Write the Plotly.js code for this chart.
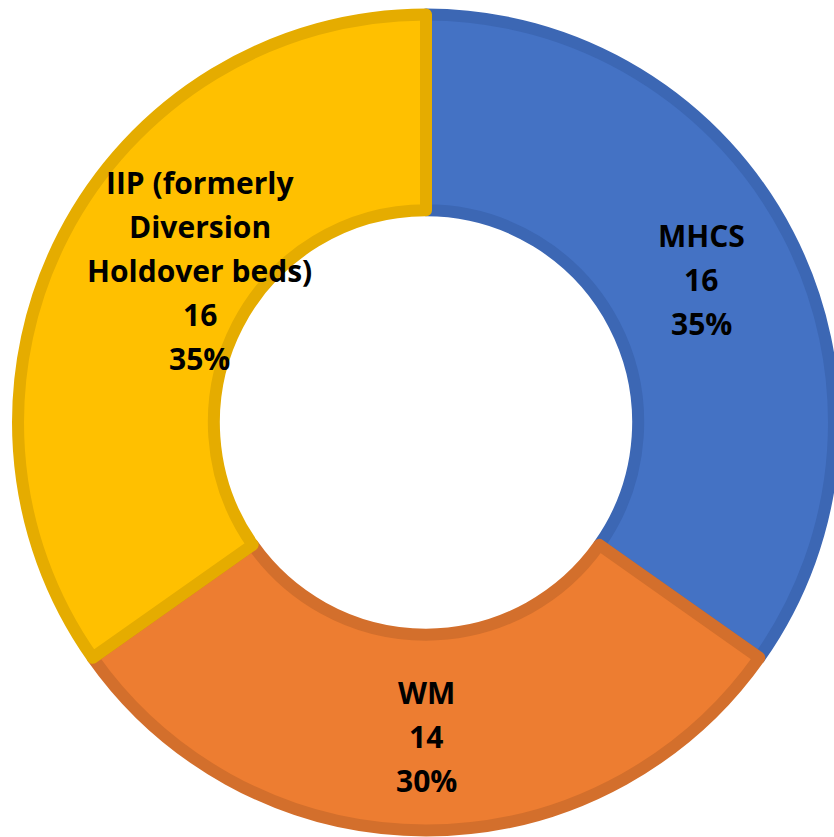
<!DOCTYPE html>
<html>
<head>
<meta charset="utf-8">
<script src="https://cdn.plot.ly/plotly-3.0.1.min.js"></script>
<style>html,body{margin:0;padding:0;background:#fff;}#chart{width:834px;height:837px;}</style>
</head>
<body>
<div id="chart"></div>
<script>
var categories = ["MHCS", "WM", "IIP (formerly Diversion Holdover beds)"];
var labelLines = [["MHCS"], ["WM"], ["IIP (formerly", "Diversion", "Holdover beds)"]];
var values = [16, 14, 16];
var fillColors = ["#4472C4", "#ED7D31", "#FFC000"];
var borderColors = ["#3C67B4", "#D36F2C", "#E5AC00"];

var W = 834, H = 837;
var domX = [0.0216, 1.0];
var domY = [0.0078, 0.9827];
var hole = 0.52;
var fontSize = 30;
var lineGap = 44;
// label placement style: position across the ring (0 = hole edge, 1 = outer edge)
// and a small angular nudge (degrees) from the slice's mid-angle
var labelRingPos = [0.5, 0.52, 0.31];
var labelAngleNudge = [0, 0, 6.5];

var trace = {
  type: "pie",
  labels: categories,
  values: values,
  textinfo: "none",
  hole: hole,
  sort: false,
  direction: "clockwise",
  rotation: 0,
  marker: {colors: fillColors, line: {color: borderColors, width: 12}},
  domain: {x: domX, y: domY},
  showlegend: false,
  hoverinfo: "label+value+percent"
};

var total = values.reduce(function (a, b) { return a + b; }, 0);
var cxPx = (domX[0] + domX[1]) / 2 * W;
var cyPx = (domY[0] + domY[1]) / 2 * H;
var R = Math.min((domX[1] - domX[0]) * W, (domY[1] - domY[0]) * H) / 2;
var Rin = R * hole;
var annotations = [];
var cum = 0;
values.forEach(function (v, i) {
  var mid = (cum + v / 2) / total * 2 * Math.PI + labelAngleNudge[i] * Math.PI / 180;
  cum += v;
  var r = Rin + labelRingPos[i] * (R - Rin);
  var px = cxPx + r * Math.sin(mid);
  var py = cyPx + r * Math.cos(mid);
  var pct = Math.round(v / total * 100) + "%";
  var lines = labelLines[i].concat([String(v), pct]);
  var n = lines.length;
  lines.forEach(function (t, k) {
    annotations.push({
      xref: "paper", yref: "paper",
      x: px / W, y: py / H,
      xanchor: "center", yanchor: "middle",
      yshift: ((n - 1) / 2 - k) * lineGap,
      text: "<b>" + t + "</b>",
      showarrow: false,
      font: {family: "'Open Sans', Lato, sans-serif", size: fontSize, color: "#000000"}
    });
  });
});

var layout = {
  width: W,
  height: H,
  margin: {l: 0, r: 0, t: 0, b: 0},
  paper_bgcolor: "#ffffff",
  showlegend: false,
  annotations: annotations
};

Plotly.newPlot("chart", [trace], layout, {displayModeBar: false, staticPlot: true});
</script>
</body>
</html>
